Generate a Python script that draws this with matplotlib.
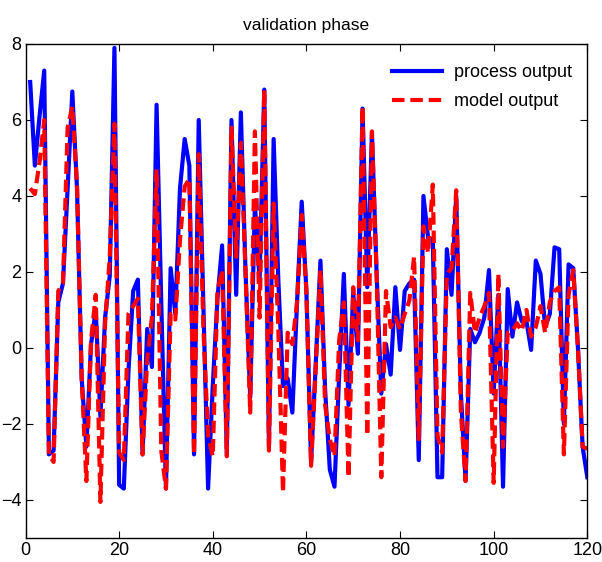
import matplotlib
matplotlib.use("Agg")
import matplotlib.pyplot as plt
import numpy as np

process_output = [
    7.0, 4.8, 6.1, 7.3, -2.8, -2.7, 1.2, 1.7, 4.2, 6.75,
    4.2, -0.8, -2.6, 0.1, 1.0, -1.8, 0.8, 1.9, 7.9, -3.6,
    -3.7, -0.6, 1.5, 1.8, -2.8, 0.5, -0.5, 6.4, 1.2, -3.7,
    2.1, 0.9, 4.2, 5.5, 4.8, -2.8, 6.0, 1.1, -3.7, -1.0,
    1.3, 2.7, -2.8, 6.0, 1.4, 6.2, 2.0, -1.3, 3.8, 1.8,
    6.8, -2.6, 5.5, 1.8, -1.0, -0.8, -1.7, 1.2, 3.85, 1.5,
    -3.0, -0.4, 2.3, -1.1, -3.2, -3.65, -0.7, 1.95, -1.5, 1.45,
    -0.15, 6.3, 1.6, 5.65, 1.95, -1.2, 0.1, -0.7, 1.6, -0.05,
    1.5, 1.7, 1.8, -2.95, 4.0, 2.9, 2.85, -3.4, -3.4, 2.6,
    1.4, 4.0, -1.2, -3.5, 0.5, 0.15, 0.4, 0.8, 2.05, -1.2,
    1.4, -3.65, 1.55, 0.3, 1.2, 0.7, 0.7, -0.05, 2.3, 1.95,
    0.55, 0.9, 2.65, 2.6, -2.0, 2.2, 2.1, 0.0, -2.6, -3.4,
]

model_output = [
    4.2, 4.05, 4.9, 6.0, -2.8, -3.0, 1.5, 1.7, 5.8, 6.35,
    4.3, -0.8, -3.5, 0.2, 1.4, -4.05, 0.65, 2.4, 5.9, -2.75,
    -2.95, 0.9, 1.1, 1.3, -2.8, -0.3, 0.8, 4.7, -2.7, -3.7,
    0.9, 0.75, 2.85, 4.25, 4.45, -2.8, 5.1, 0.5, -2.3, -2.85,
    1.5, 2.05, -2.85, 5.8, 2.4, 5.4, 2.0, -1.7, 5.7, 0.8,
    6.8, -2.7, 3.8, 0.5, -3.8, 0.4, 0.1, 1.2, 3.5, 1.5,
    -3.1, -0.5, 2.05, -1.5, -2.4, -2.85, 0.2, 1.2, -3.4, 1.6,
    0.2, 6.35, -2.3, 5.7, 1.95, -3.4, 1.5, 0.55, 0.8, 0.5,
    0.9, 1.25, 2.4, -2.4, 3.2, 2.5, 4.3, -2.3, -2.75, 1.95,
    2.1, 4.15, -1.7, -3.5, 1.45, 0.4, 0.8, 1.1, 1.45, -3.55,
    1.95, -2.6, 0.4, 0.45, 0.65, 0.45, 1.0, 0.3, 0.55, 1.1,
    0.4, 1.2, 1.5, 1.6, -2.8, 1.4, 2.05, 0.0, -2.6, -2.65,
]

x_ticks = [0, 20, 40, 60, 80, 100, 120]
y_ticks = [-4, -2, 0, 2, 4, 6, 8]
title_text = "validation phase"
labels = ["process output", "model output"]

plt.rcParams['font.family'] = ['Liberation Sans', 'DejaVu Sans']

fig = plt.figure(figsize=(6.02, 5.62), dpi=100)
ax = fig.add_axes([25.5 / 602, 1 - 538 / 562, (587.3 - 25.5) / 602, (538 - 44) / 562])

n = np.arange(1, len(process_output) + 1)
ax.plot(n, process_output, color=(0, 0, 1), lw=3.0, label=labels[0])
ax.plot(n, model_output, color=(1, 0, 0), lw=3.0, linestyle=(0, (3, 1.4)), label=labels[1])

ax.set_xlim(0, 120)
ax.set_ylim(-5, 8)
ax.set_xticks(x_ticks)
ax.set_yticks(y_ticks)
ax.tick_params(direction='in', top=True, right=True, length=5, width=0.8,
               labelsize=13, pad=3)
for s in ax.spines.values():
    s.set_linewidth(1.0)

ax.set_title(title_text, fontsize=12.5, pad=10)

leg = ax.legend(loc='upper right', frameon=False, fontsize=13, handlelength=2.8,
                handletextpad=0.65, labelspacing=0.7, borderaxespad=0.7,
                bbox_to_anchor=(1.008, 1.0))

fig.savefig("out.png", dpi=100)
